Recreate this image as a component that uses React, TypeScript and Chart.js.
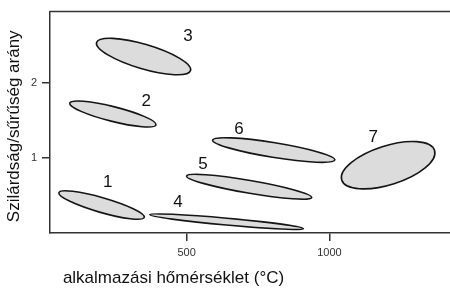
import React, { useEffect, useRef } from "react";
import { Chart, registerables } from "chart.js";

Chart.register(...registerables);

// Regions (numbered areas)
const regionLabels = ["1", "2", "3", "4", "5", "6", "7"];
// Major-axis endpoints of each region (application temperature °C, strength/density ratio)
const tempFrom = [53, 91, 185, 371, 500, 591, 1043];
const ratioFrom = [0.537, 1.73, 2.538, 0.244, 0.759, 1.238, 0.707];
const tempTo = [352, 393, 514, 909, 938, 1019, 1368];
const ratioTo = [0.208, 1.441, 2.165, 0.059, 0.473, 0.973, 1.1];
// Half-width of each region across its major axis (ratio units)
const halfWidth = [0.098, 0.098, 0.163, 0.046, 0.085, 0.098, 0.259];
// Position of the number labels
const labelTemp = [224, 359, 505, 470, 557, 683, 1153];
const labelRatio = [0.698, 1.775, 2.635, 0.424, 0.928, 1.405, 1.293];

const xTicks = [500, 1000];
const yTicks = [1, 2];
const xMin = 22;
const xMax = 1422;
const yMin = 0;
const yMax = 2.95;

const xTitle = "alkalmazási hőmérséklet (°C)";
const yTitle = "Szilárdság/sűrűség arány";

const FONT = "'Liberation Sans', Arial, sans-serif";
const AXIS_COLOR = "#333333";

const regionPlugin = {
  id: "regions",
  afterDatasetsDraw(chart: any) {
    const { ctx, chartArea } = chart;
    const xs = chart.scales.x;
    const ys = chart.scales.y;
    const pxPerUnit = Math.abs(ys.getPixelForValue(0) - ys.getPixelForValue(1));
    ctx.save();
    for (let i = 0; i < regionLabels.length; i++) {
      const x1 = xs.getPixelForValue(tempFrom[i]);
      const y1 = ys.getPixelForValue(ratioFrom[i]);
      const x2 = xs.getPixelForValue(tempTo[i]);
      const y2 = ys.getPixelForValue(ratioTo[i]);
      const cx = (x1 + x2) / 2;
      const cy = (y1 + y2) / 2;
      const a = Math.hypot(x2 - x1, y2 - y1) / 2;
      const b = halfWidth[i] * pxPerUnit;
      const ang = Math.atan2(y2 - y1, x2 - x1);
      ctx.beginPath();
      ctx.ellipse(cx, cy, a, b, ang, 0, Math.PI * 2);
      ctx.fillStyle = "#dcdcdc";
      ctx.fill();
      ctx.lineWidth = 1.6;
      ctx.strokeStyle = "#151515";
      ctx.stroke();
    }
    ctx.fillStyle = "#111111";
    ctx.font = `17px ${FONT}`;
    ctx.textAlign = "center";
    ctx.textBaseline = "alphabetic";
    for (let i = 0; i < regionLabels.length; i++) {
      ctx.fillText(
        regionLabels[i],
        xs.getPixelForValue(labelTemp[i]),
        ys.getPixelForValue(labelRatio[i]) + 6.1
      );
    }
    // top frame line
    ctx.beginPath();
    ctx.lineWidth = 1.5;
    ctx.strokeStyle = AXIS_COLOR;
    ctx.moveTo(chartArea.left, chartArea.top);
    ctx.lineTo(chartArea.right + 2, chartArea.top);
    ctx.stroke();
    // axis titles
    ctx.fillStyle = "#111111";
    ctx.font = `17px ${FONT}`;
    ctx.textAlign = "center";
    ctx.textBaseline = "middle";
    ctx.fillText(xTitle, chartArea.left + 123.5, chartArea.bottom + 45.5);
    ctx.save();
    ctx.translate(chartArea.left - 36, (chartArea.top + chartArea.bottom) / 2 + 4);
    ctx.rotate(-Math.PI / 2);
    ctx.fillText(yTitle, 0, 0);
    ctx.restore();
    ctx.restore();
  },
};

export default function App() {
  const ref = useRef<HTMLCanvasElement | null>(null);
  useEffect(() => {
    if (!ref.current) return;
    const chart = new Chart(ref.current, {
      type: "scatter",
      data: {
        datasets: [
          {
            label: "regions",
            data: labelTemp.map((t, i) => ({ x: t, y: labelRatio[i] })),
            pointRadius: 0,
            pointHoverRadius: 0,
          },
        ],
      },
      options: {
        animation: false,
        responsive: true,
        maintainAspectRatio: false,
        layout: { padding: { top: 7, right: 0, left: 0, bottom: 0 } },
        plugins: { legend: { display: false }, tooltip: { enabled: false } },
        scales: {
          x: {
            type: "linear",
            min: xMin,
            max: xMax,
            afterBuildTicks: (s: any) => {
              s.ticks = xTicks.map((v) => ({ value: v }));
            },
            afterFit: (s: any) => {
              s.height = 58;
            },
            grid: {
              drawOnChartArea: false,
              drawTicks: true,
              tickLength: 8,
              color: AXIS_COLOR,
              lineWidth: 1.5,
            },
            border: { display: true, color: AXIS_COLOR, width: 1.5 },
            ticks: {
              color: "#333333",
              font: { family: FONT, size: 11 },
              padding: 5,
              maxRotation: 0,
              callback: (v: any) => String(v),
            },
          },
          y: {
            type: "linear",
            min: yMin,
            max: yMax,
            afterBuildTicks: (s: any) => {
              s.ticks = yTicks.map((v) => ({ value: v }));
            },
            afterFit: (s: any) => {
              s.width = 50;
            },
            grid: {
              drawOnChartArea: false,
              drawTicks: true,
              tickLength: 8,
              color: AXIS_COLOR,
              lineWidth: 1.5,
            },
            border: { display: true, color: AXIS_COLOR, width: 1.5 },
            ticks: {
              color: "#333333",
              font: { family: FONT, size: 11 },
              padding: 5,
              callback: (v: any) => String(v),
            },
          },
        },
      },
      plugins: [regionPlugin],
    });
    return () => chart.destroy();
  }, []);
  return (
    <div style={{ position: "absolute", left: 0, top: 0, width: 450, height: 291, background: "#fff" }}>
      <canvas ref={ref} />
    </div>
  );
}
